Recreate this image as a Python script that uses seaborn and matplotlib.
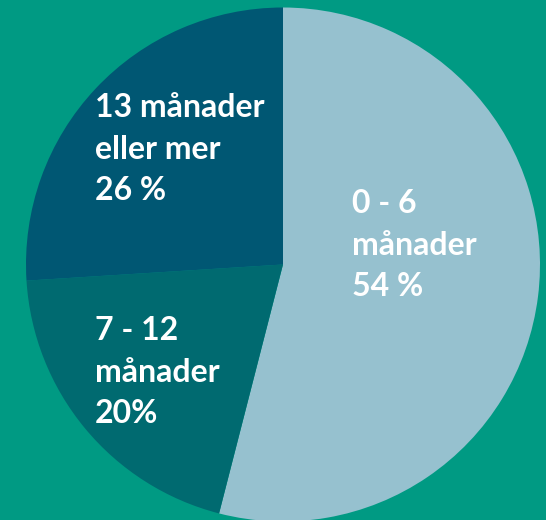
import matplotlib
matplotlib.use("Agg")
import matplotlib.pyplot as plt
import seaborn as sns

labels = ["0 - 6\nmånader\n54 %", "7 - 12\nmånader\n20%", "13 månader\neller mer\n26 %"]
shares = [54, 20, 26]
colors = ["#96c1cf", "#006a70", "#005773"]
BG = "#009a83"

sns.set_theme(style="white")
plt.rcParams["font.family"] = ["Lato", "DejaVu Sans"]

fig = plt.figure(figsize=(5.46, 5.2), dpi=100, facecolor=BG)
ax = fig.add_axes([0, 0, 1, 1])
ax.set_facecolor(BG)

ax.pie(shares, colors=colors, startangle=90, counterclock=False,
       radius=1, wedgeprops=dict(linewidth=0))

# pixel layout: centre at (283, 264.5) from top-left, radius 257 px
r_px = 257
ax.set_xlim(-283 / r_px, (546 - 283) / r_px)
ax.set_ylim(-(520 - 264.5) / r_px, 264.5 / r_px)
ax.set_aspect("auto")
ax.axis("off")

# label anchors (figure fraction, top-left of text block)
label_pos = [(0.645, 0.636), (0.174, 0.392), (0.174, 0.821)]
for txt, (x, y) in zip(labels, label_pos):
    fig.text(x, y, txt, ha="left", va="top", color="white",
             fontsize=23, fontweight="bold", linespacing=1.52)

fig.savefig("out.png", dpi=100, facecolor=BG)
